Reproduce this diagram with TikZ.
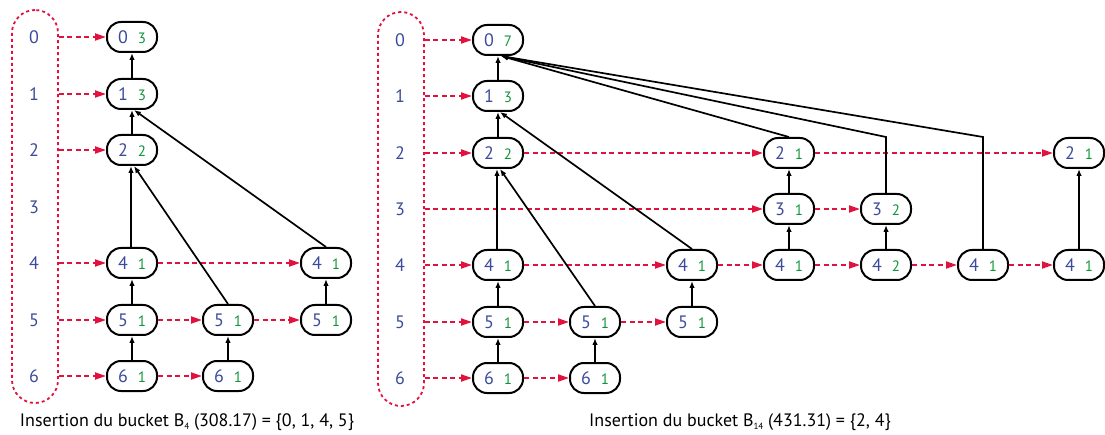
\documentclass[tikz,border=0pt]{standalone}
\usepackage{fontspec}
\setmainfont[Numbers=Lining]{PT Sans}
\usetikzlibrary{arrows.meta,calc}
\definecolor{numblue}{HTML}{3B4A9C}
\definecolor{numgreen}{HTML}{10943A}
\definecolor{dashred}{HTML}{E2123F}
\newcommand\cellpair[2]{\textcolor{numblue}{\fontsize{18}{18}\selectfont #1}\hspace{10pt}\textcolor{numgreen}{\fontsize{15}{15}\selectfont #2}}
\newcommand\subsc[1]{\raisebox{-3.5pt}{\fontsize{9}{9}\selectfont #1}}
\begin{document}
\begin{tikzpicture}[x=1pt,y=-1pt,
 cell/.style={draw=black, line width=2pt, rounded corners=14pt, minimum width=50pt, minimum height=30pt, inner sep=0pt},
 up/.style={-{Latex[length=7pt,width=5.5pt]}, line width=1.7pt},
 link/.style={draw=dashred, line width=2pt, dash pattern=on 5pt off 3.5pt, -{Triangle[length=11pt,width=7pt]}},
 bucket/.style={draw=dashred, line width=1.8pt, dash pattern=on 3pt off 3pt, rounded corners=23pt, minimum width=46pt, inner sep=0pt},
 lbl/.style={text=numblue, font=\fontsize{18}{18}\selectfont},
 caption/.style={font=\fontsize{18}{18}\selectfont, anchor=base}
]
\useasboundingbox (0,0) rectangle (1105,435);

% ---------------- Left panel ----------------
\node[bucket, minimum height=393pt] (SL) at (35,206.5) {};
\foreach \k/\yy in {0/37,1/94,2/150,3/207,4/263,5/320,6/376}
  \node[lbl] (SLl\k) at (34,\yy) {\k};

\node[cell] (L0) at (132,37) {\cellpair{0}{3}};
\node[cell] (L1) at (132,94) {\cellpair{1}{3}};
\node[cell] (L2) at (132,150) {\cellpair{2}{2}};
\node[cell] (L4) at (132,263) {\cellpair{4}{1}};
\node[cell] (L5) at (132,320) {\cellpair{5}{1}};
\node[cell] (L6) at (132,376) {\cellpair{6}{1}};
\node[cell] (L5b) at (228,320) {\cellpair{5}{1}};
\node[cell] (L6b) at (228,376) {\cellpair{6}{1}};
\node[cell] (L4c) at (326,263) {\cellpair{4}{1}};
\node[cell] (L5c) at (326,320) {\cellpair{5}{1}};

\foreach \n in {L0,L1,L2,L4,L5,L6}
  \draw[link] (SL.east |- \n) -- (\n.west);
\draw[link] (L4.east) -- (L4c.west);
\draw[link] (L5.east) -- (L5b.west);
\draw[link] (L5b.east) -- (L5c.west);
\draw[link] (L6.east) -- (L6b.west);

\draw[up] (L1.north) -- (L0.south);
\draw[up] (L2.north) -- (L1.south);
\draw[up] ([xshift=-1pt]L4.north) -- ([xshift=-1pt]L2.south);
\draw[up] (L5.north) -- (L4.south);
\draw[up] (L6.north) -- (L5.south);
\draw[up] (L6b.north) -- (L5b.south);
\draw[up] (L5c.north) -- (L4c.south);
\draw[up] (L5b.north) -- ([xshift=2pt]L2.south);
\draw[up] (L4c.north) -- ([xshift=2pt]L1.south);

\node[caption] (CL) at (187,426) {Insertion du bucket B\subsc{4} (308.17) = \{0, 1, 4, 5\}};

% ---------------- Right panel ----------------
\node[bucket, minimum height=394pt] (SR) at (401,209) {};
\foreach \k/\yy in {0/40,1/96,2/153,3/209,4/265,5/322,6/378}
  \node[lbl] (SRl\k) at (400,\yy) {\k};

\node[cell] (A0) at (498,40) {\cellpair{0}{7}};
\node[cell] (A1) at (498,96) {\cellpair{1}{3}};
\node[cell] (A2) at (498,153) {\cellpair{2}{2}};
\node[cell] (A4) at (498,265) {\cellpair{4}{1}};
\node[cell] (A5) at (498,322) {\cellpair{5}{1}};
\node[cell] (A6) at (498,378) {\cellpair{6}{1}};
\node[cell] (B5) at (595,322) {\cellpair{5}{1}};
\node[cell] (B6) at (595,378) {\cellpair{6}{1}};
\node[cell] (C4) at (692,265) {\cellpair{4}{1}};
\node[cell] (C5) at (692,322) {\cellpair{5}{1}};
\node[cell] (D2) at (789,153) {\cellpair{2}{1}};
\node[cell] (D3) at (789,209) {\cellpair{3}{1}};
\node[cell] (D4) at (789,265) {\cellpair{4}{1}};
\node[cell] (E3) at (886,209) {\cellpair{3}{2}};
\node[cell] (E4) at (886,265) {\cellpair{4}{2}};
\node[cell] (F4) at (983,265) {\cellpair{4}{1}};
\node[cell] (G2) at (1079,153) {\cellpair{2}{1}};
\node[cell] (G4) at (1079,265) {\cellpair{4}{1}};

\foreach \n in {A0,A1,A2,A4,A5,A6}
  \draw[link] (SR.east |- \n) -- (\n.west);
\draw[link] (SR.east |- D3) -- (D3.west);
\draw[link] (A2.east) -- (D2.west);
\draw[link] (D2.east) -- (G2.west);
\draw[link] (D3.east) -- (E3.west);
\draw[link] (A4.east) -- (C4.west);
\draw[link] (C4.east) -- (D4.west);
\draw[link] (D4.east) -- (E4.west);
\draw[link] (E4.east) -- (F4.west);
\draw[link] (F4.east) -- (G4.west);
\draw[link] (A5.east) -- (B5.west);
\draw[link] (B5.east) -- (C5.west);
\draw[link] (A6.east) -- (B6.west);

\draw[up] (A1.north) -- (A0.south);
\draw[up] (A2.north) -- (A1.south);
\draw[up] ([xshift=-1pt]A4.north) -- ([xshift=-1pt]A2.south);
\draw[up] (A5.north) -- (A4.south);
\draw[up] (A6.north) -- (A5.south);
\draw[up] (B6.north) -- (B5.south);
\draw[up] (C5.north) -- (C4.south);
\draw[up] (B5.north) -- ([xshift=2pt]A2.south);
\draw[up] (C4.north) -- ([xshift=2pt]A1.south);
\draw[up] (D3.north) -- (D2.south);
\draw[up] (D4.north) -- (D3.south);
\draw[up] (E4.north) -- (E3.south);
\draw[up] (G4.north) -- (G2.south);
\draw[up] (D2.north) -- ([xshift=3pt]A0.south);
\draw[up] (E3.north) -- (E3.north |- D2.north) -- ([xshift=3pt]A0.south);
\draw[up] (F4.north) -- (F4.north |- D2.north) -- ([xshift=3pt]A0.south);

\node[caption] (CR) at (740,426) {Insertion du bucket B\subsc{14} (431.31) = \{2, 4\}};
\end{tikzpicture}
\end{document}
